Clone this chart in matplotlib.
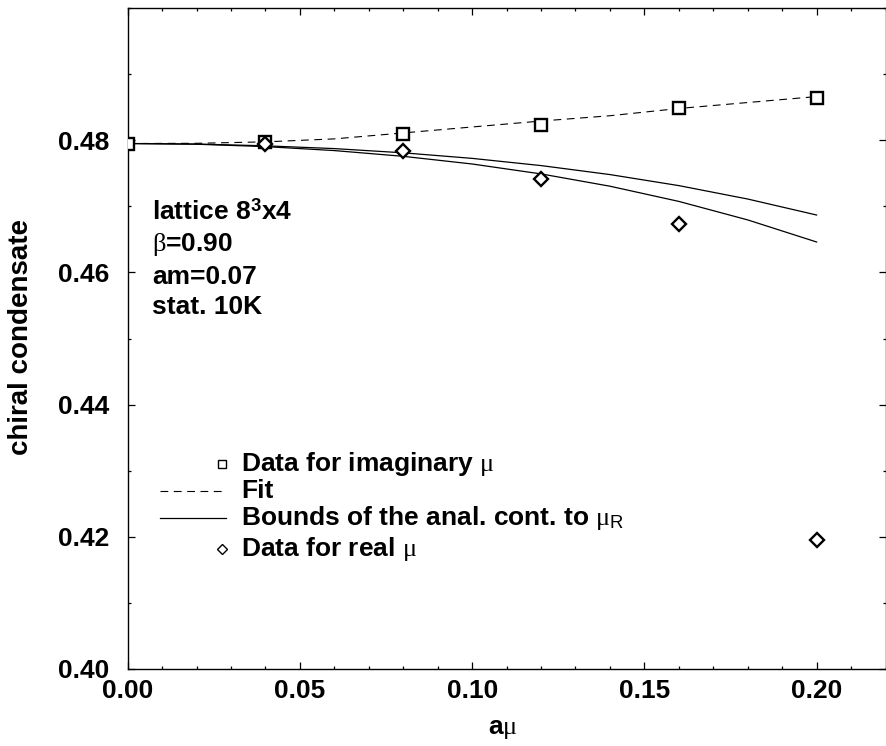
import matplotlib
matplotlib.use('Agg')
import matplotlib.pyplot as plt
from matplotlib.lines import Line2D
from matplotlib.ticker import MultipleLocator, FixedLocator

# ---------------- data ----------------
mu_imag = [0.00, 0.04, 0.08, 0.12, 0.16, 0.20]
cond_imag = [0.4795, 0.4797, 0.4810, 0.4823, 0.4849, 0.4864]
err_imag = [0.0003, 0.0003, 0.0003, 0.0003, 0.0003, 0.0003]

mu_real = [0.04, 0.08, 0.12, 0.16, 0.20]
cond_real = [0.4794, 0.4783, 0.4742, 0.4673, 0.4195]
err_real = [0.0004, 0.0004, 0.0004, 0.0004, 0.0004]

mu_curve = [0.00, 0.02, 0.04, 0.06, 0.08, 0.10, 0.12, 0.14, 0.16, 0.18, 0.20]
fit_curve = [0.4795, 0.47953, 0.47975, 0.4802, 0.4811, 0.4820, 0.4829, 0.4837, 0.4848, 0.4857, 0.4866]
bound_upper = [0.4795, 0.47942, 0.47915, 0.47873, 0.47809, 0.47725, 0.47616, 0.47480, 0.47313, 0.47110, 0.46868]
bound_lower = [0.4795, 0.47939, 0.47903, 0.47843, 0.47756, 0.47640, 0.47490, 0.47304, 0.47074, 0.46794, 0.46460]

xticks = [0.00, 0.05, 0.10, 0.15, 0.20]
xticklabels = ['0.00', '0.05', '0.10', '0.15', '0.20']
yticks = [0.40, 0.42, 0.44, 0.46, 0.48]
yticklabels = ['0.40', '0.42', '0.44', '0.46', '0.48']

legend_labels = ['Data for imaginary $\\mu$', 'Fit',
                 'Bounds of the anal. cont. to $\\mu_{\\mathsf{R}}$',
                 'Data for real $\\mu$']
info_lines = ['lattice 8$^{\\mathbf{3}}$x4', '$\\beta$=0.90', 'am=0.07', 'stat. 10K']

# ---------------- style ----------------
plt.rcParams['font.family'] = ['Liberation Sans', 'DejaVu Sans']
plt.rcParams['mathtext.fontset'] = 'custom'
plt.rcParams['mathtext.it'] = 'Liberation Serif:weight=normal'
plt.rcParams['mathtext.rm'] = 'Liberation Serif:weight=normal'
plt.rcParams['mathtext.sf'] = 'Liberation Sans:weight=normal'
plt.rcParams['mathtext.bf'] = 'Liberation Sans:weight=bold'

W, H = 886, 746
fig = plt.figure(figsize=(W / 100, H / 100), dpi=100)
L, R, T, B = 127.7, 885.5, 8, 669
ax = fig.add_axes([L / W, 1 - B / H, (R - L) / W, (B - T) / H])

def fx(px):
    return px / W

def fy(py):
    return 1 - py / H

FS = 19

# curves
ax.plot(mu_curve, fit_curve, color='black', lw=0.8, dashes=(7, 5))
ax.plot(mu_curve, bound_upper, color='black', lw=0.9)
ax.plot(mu_curve, bound_lower, color='black', lw=0.9)

# data
ax.errorbar(mu_imag, cond_imag, yerr=err_imag, fmt='s', ms=8.2, mfc='white',
            mec='black', mew=1.7, ecolor='black', elinewidth=0.6, capsize=1.5,
            capthick=0.6, zorder=5)
ax.errorbar(mu_real, cond_real, yerr=err_real, fmt='D', ms=7.4, mfc='white',
            mec='black', mew=1.7, ecolor='black', elinewidth=0.6, capsize=1.5,
            capthick=0.6, zorder=5)

ax.set_xlim(0.0, 0.22)
ax.set_ylim(0.40, 0.50)
ax.xaxis.set_major_locator(FixedLocator(xticks))
ax.set_xticklabels(xticklabels)
ax.xaxis.set_minor_locator(MultipleLocator(0.01))
ax.yaxis.set_major_locator(FixedLocator(yticks))
ax.set_yticklabels(yticklabels)
ax.yaxis.set_minor_locator(MultipleLocator(0.01))
ax.tick_params(which='both', direction='in', top=True, right=True, width=0.9, color='black')
ax.tick_params(which='major', length=5)
ax.tick_params(which='minor', length=2.5)
ax.tick_params(axis='x', which='major', labelsize=FS, pad=7)
ax.tick_params(axis='y', which='major', labelsize=FS, pad=13)
for lab in ax.get_xticklabels() + ax.get_yticklabels():
    lab.set_fontweight('bold')
for s in ax.spines.values():
    s.set_linewidth(1.0)
    s.set_color('black')

# axis labels
fig.text(fx(21), fy(337), 'chiral condensate', rotation=90, ha='center', va='center',
         fontsize=20, fontweight='bold')
fig.text(fx(503), fy(729), 'a$\\mu$', ha='center', va='center', fontsize=FS, fontweight='bold')

# info text
info_y = [212, 244, 277, 307]
for txt, py in zip(info_lines, info_y):
    fig.text(fx(152), fy(py), txt, ha='left', va='center', fontsize=FS, fontweight='bold')

# manual legend
leg_y = [464, 491, 518, 549]
fig.add_artist(Line2D([fx(222)], [fy(leg_y[0])], marker='s', ms=6, mfc='white', mec='black',
                      mew=1.0, ls='none'))
fig.add_artist(Line2D([fx(160), fx(226)], [fy(leg_y[1])] * 2, color='black', lw=0.8,
                      dashes=(7, 5)))
fig.add_artist(Line2D([fx(160), fx(226)], [fy(leg_y[2])] * 2, color='black', lw=0.9))
fig.add_artist(Line2D([fx(222)], [fy(leg_y[3])], marker='D', ms=5.5, mfc='white', mec='black',
                      mew=1.0, ls='none'))
for txt, py in zip(legend_labels, leg_y):
    fig.text(fx(241), fy(py), txt, ha='left', va='center', fontsize=FS, fontweight='bold')

fig.savefig('out.png', dpi=100)
